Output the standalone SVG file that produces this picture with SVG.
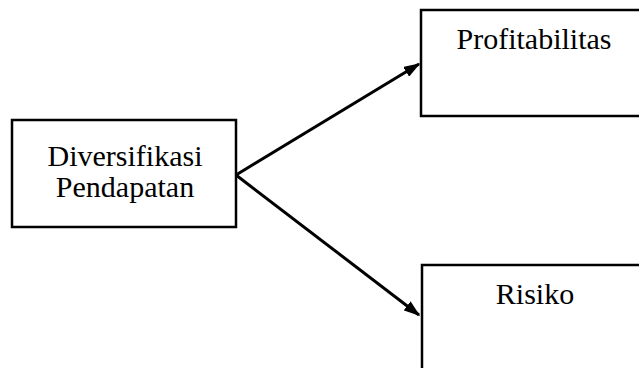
<svg xmlns="http://www.w3.org/2000/svg" width="639" height="368" viewBox="0 0 639 368">
<style>
.box{fill:#fff;stroke:#000;stroke-width:2.5}
.lbl{font-family:"Liberation Serif","Times New Roman",serif;font-size:30px;fill:#000;text-anchor:middle}
.con{stroke:#000;stroke-width:3;fill:none}
</style>
<defs>
<marker id="arr" markerWidth="5.5" markerHeight="3.8" refX="5" refY="1.9" orient="auto" markerUnits="strokeWidth">
<path d="M0,0 L5.5,1.9 L0,3.8 Z" fill="#000"/>
</marker>
</defs>
<rect width="639" height="368" fill="#fff"/>
<g id="connectors">
<line class="con" x1="236" y1="175" x2="419" y2="64" marker-end="url(#arr)"/>
<line class="con" x1="236" y1="175" x2="419" y2="315" marker-end="url(#arr)"/>
</g>
<g id="diversifikasi">
<rect class="box" x="12" y="120" width="224" height="107"/>
<text class="lbl" x="125" y="166">Diversifikasi</text>
<text class="lbl" x="125" y="197">Pendapatan</text>
</g>
<g id="profitabilitas">
<rect class="box" x="421" y="10" width="230" height="106"/>
<text class="lbl" x="534" y="49">Profitabilitas</text>
</g>
<g id="risiko">
<rect class="box" x="422" y="265" width="230" height="120"/>
<text class="lbl" x="535" y="304">Risiko</text>
</g>
</svg>
